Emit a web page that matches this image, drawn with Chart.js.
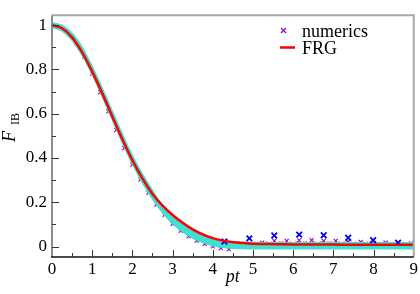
<!DOCTYPE html>
<html>
<head>
<meta charset="utf-8">
<script src="https://cdn.jsdelivr.net/npm/chart.js@4"></script>
<style>
  body { margin: 0; background: #fff; }
</style>
</head>
<body>
<canvas id="fib-chart" width="420" height="294"></canvas>
<script>
// values
const curveX = [0, 0.25, 0.5, 0.75, 1, 1.25, 1.5, 1.75, 2, 2.25, 2.5, 2.75, 3, 3.25, 3.5, 3.75, 4, 4.25, 4.5, 4.75, 5, 5.5, 6, 6.5, 7, 7.5, 8, 8.5, 9];
const frgY = [1.000, 0.986, 0.945, 0.877, 0.790, 0.692, 0.588, 0.485, 0.390, 0.308, 0.238, 0.185, 0.143, 0.108, 0.078, 0.055, 0.038, 0.027, 0.020, 0.016, 0.013, 0.011, 0.010, 0.009, 0.009, 0.008, 0.008, 0.008, 0.008];
const cyanHighY = [1.010, 0.998, 0.962, 0.898, 0.810, 0.712, 0.608, 0.505, 0.408, 0.324, 0.252, 0.183, 0.141, 0.106, 0.076, 0.053, 0.036, 0.026, 0.020, 0.018, 0.017, 0.016, 0.016, 0.016, 0.016, 0.016, 0.016, 0.016, 0.016];
const cyanLowY = [0.992, 0.975, 0.934, 0.866, 0.779, 0.681, 0.576, 0.472, 0.376, 0.291, 0.218, 0.156, 0.106, 0.068, 0.040, 0.020, 0.006, -0.002, -0.006, -0.008, -0.009, -0.009, -0.009, -0.009, -0.009, -0.009, -0.009, -0.009, -0.009];

const numericsX = [0, 0.2, 0.4, 0.6, 0.8, 1.0, 1.2, 1.4, 1.6, 1.8, 2.0, 2.2, 2.4, 2.6, 2.8, 3.0, 3.2, 3.4, 3.6, 3.8, 4.0, 4.2, 4.4, 4.62, 5.23, 5.53, 5.84, 6.15, 6.46, 6.76, 7.06, 7.37, 7.68, 8.30, 8.93];
const numericsY = [0.998, 0.990, 0.964, 0.920, 0.858, 0.781, 0.697, 0.611, 0.526, 0.445, 0.370, 0.303, 0.243, 0.190, 0.143, 0.103, 0.071, 0.046, 0.027, 0.012, 0.001, -0.007, -0.012, 0.014, 0.018, 0.026, 0.026, 0.028, 0.029, 0.026, 0.026, 0.022, 0.021, 0.018, 0.014];

const blueX = [4.29, 4.91, 5.53, 6.15, 6.76, 7.37, 7.99, 8.61];
const blueY = [0.023, 0.037, 0.050, 0.054, 0.051, 0.040, 0.029, 0.018];

const greenX = [4.9, 5.1, 5.3, 5.5, 5.7, 5.9, 6.1, 6.3, 6.5, 6.7, 6.9, 7.1, 7.3, 7.5, 7.7, 7.9, 8.1, 8.3, 8.5, 8.7, 8.9];
const greenY = [0.012, 0.014, 0.016, 0.015, 0.017, 0.016, 0.018, 0.017, 0.016, 0.018, 0.017, 0.016, 0.017, 0.015, 0.016, 0.015, 0.014, 0.015, 0.013, 0.014, 0.013];

const xTicksMajor = [0, 1, 2, 3, 4, 5, 6, 7, 8, 9];
const yTicksMajor = [0, 0.2, 0.4, 0.6, 0.8, 1];

const serif = '"Liberation Serif", "DejaVu Serif", serif';
const CYAN = '#40e0d0';
const PURPLE = '#9400d3';

const toPoints = (xs, ys) => xs.map((x, i) => ({ x: x, y: ys[i] }));

const isMajor = (v, list) => list.some((m) => Math.abs(m - v) < 1e-6);

// frame, inward ticks, axis titles and legend
const decorPlugin = {
    id: 'decor',
    afterDraw(chart) {
        const ctx = chart.ctx;
        const a = chart.chartArea;
        const xs = chart.scales.x;
        const ys = chart.scales.y;
        ctx.save();

        // top and right frame
        ctx.strokeStyle = '#a8a8a8';
        ctx.lineWidth = 2;
        ctx.beginPath();
        ctx.moveTo(a.left, a.top);
        ctx.lineTo(a.right, a.top);
        ctx.lineTo(a.right, a.bottom);
        ctx.stroke();

        // left axis
        ctx.strokeStyle = '#8c8c8c';
        ctx.beginPath();
        ctx.moveTo(a.left, a.top);
        ctx.lineTo(a.left, a.bottom);
        ctx.stroke();

        // bottom axis
        ctx.strokeStyle = '#111';
        ctx.lineWidth = 1.6;
        ctx.beginPath();
        ctx.moveTo(a.left - 1, a.bottom);
        ctx.lineTo(a.right, a.bottom);
        ctx.stroke();

        // ticks pointing inward
        ctx.strokeStyle = '#333';
        ctx.lineWidth = 1;
        ctx.beginPath();
        xs.ticks.forEach((t) => {
            if (t.value <= xs.min || t.value >= xs.max) return;
            const px = Math.round(xs.getPixelForValue(t.value)) + 0.5;
            const len = isMajor(t.value, xTicksMajor) ? 7 : 4;
            ctx.moveTo(px, a.bottom);
            ctx.lineTo(px, a.bottom - len);
        });
        ys.ticks.forEach((t) => {
            const py = Math.round(ys.getPixelForValue(t.value)) + 0.5;
            const len = isMajor(t.value, yTicksMajor) ? 7 : 4;
            ctx.moveTo(a.left, py);
            ctx.lineTo(a.left + len, py);
        });
        ctx.stroke();

        // axis titles
        ctx.fillStyle = '#000';
        ctx.textBaseline = 'alphabetic';
        ctx.textAlign = 'center';
        ctx.font = 'italic 18px ' + serif;
        ctx.fillText('pt', (a.left + a.right) / 2, 282);

        ctx.save();
        ctx.translate(15, 142);
        ctx.rotate(-Math.PI / 2);
        ctx.textAlign = 'left';
        ctx.font = 'italic 18px ' + serif;
        ctx.fillText('F', 0, 0);
        ctx.font = '12px ' + serif;
        ctx.fillText('IB', 17, 4);
        ctx.restore();

        // legend
        ctx.strokeStyle = PURPLE;
        ctx.lineWidth = 1.2;
        ctx.beginPath();
        ctx.moveTo(281, 28);
        ctx.lineTo(286, 33);
        ctx.moveTo(286, 28);
        ctx.lineTo(281, 33);
        ctx.stroke();

        ctx.strokeStyle = '#ff0000';
        ctx.lineWidth = 2.5;
        ctx.beginPath();
        ctx.moveTo(280, 47.5);
        ctx.lineTo(295, 47.5);
        ctx.stroke();

        ctx.font = '18px ' + serif;
        ctx.textAlign = 'left';
        ctx.fillText('numerics', 302, 37);
        ctx.fillText('FRG', 302, 54);

        ctx.restore();
    }
};

const markerSet = (label, xs, ys, color, radius, width, order) => ({
    label: label,
    data: toPoints(xs, ys),
    showLine: false,
    pointStyle: 'crossRot',
    pointRadius: radius,
    pointBorderWidth: width,
    borderColor: color,
    backgroundColor: color,
    order: order
});

const config = {
    type: 'line',
    data: {
        datasets: [
            {
                label: 'cyan low',
                data: toPoints(curveX, cyanLowY),
                borderColor: CYAN,
                borderWidth: 2,
                pointRadius: 0,
                cubicInterpolationMode: 'monotone',
                fill: false,
                order: 3
            },
            {
                label: 'cyan high',
                data: toPoints(curveX, cyanHighY),
                borderColor: CYAN,
                backgroundColor: CYAN,
                borderWidth: 2,
                pointRadius: 0,
                cubicInterpolationMode: 'monotone',
                fill: '-1',
                order: 2
            },
            markerSet('green', greenX, greenY, '#228b22', 2.5, 1, 5),
            markerSet('numerics', numericsX, numericsY, PURPLE, 2.8, 1.1, 4),
            markerSet('blue', blueX, blueY, '#0000ff', 4, 1.8, 1),
            {
                label: 'FRG',
                data: toPoints(curveX, frgY),
                borderColor: '#ff0000',
                borderWidth: 2.5,
                pointRadius: 0,
                cubicInterpolationMode: 'monotone',
                fill: false,
                order: 0
            }
        ]
    },
    options: {
        responsive: false,
        animation: false,
        layout: { padding: { top: 2, right: 5, left: 0, bottom: 0 } },
        plugins: {
            legend: { display: false },
            tooltip: { enabled: false }
        },
        scales: {
            x: {
                type: 'linear',
                min: 0,
                max: 9,
                grid: { display: false, drawTicks: false },
                border: { display: false },
                ticks: {
                    stepSize: 0.5,
                    padding: 2,
                    maxRotation: 0,
                    autoSkip: false,
                    color: '#000',
                    font: { family: serif, size: 17 },
                    callback: (v) => isMajor(v, xTicksMajor) ? String(Math.round(v)) : ''
                },
                afterFit: (scale) => { scale.height = 37; }
            },
            y: {
                min: -0.047,
                max: 1.045,
                grid: { display: false, drawTicks: false },
                border: { display: false },
                ticks: {
                    stepSize: 0.1,
                    includeBounds: false,
                    padding: 5,
                    autoSkip: false,
                    color: '#000',
                    font: { family: serif, size: 17 },
                    callback: (v) => {
                        if (!isMajor(v, yTicksMajor)) return '';
                        const r = Math.round(v * 10) / 10;
                        return (r === 0 || r === 1) ? String(r) : r.toFixed(1);
                    }
                },
                afterFit: (scale) => { scale.width = 52; }
            }
        }
    },
    plugins: [decorPlugin]
};

new Chart(document.getElementById('fib-chart'), config);
</script>
</body>
</html>
